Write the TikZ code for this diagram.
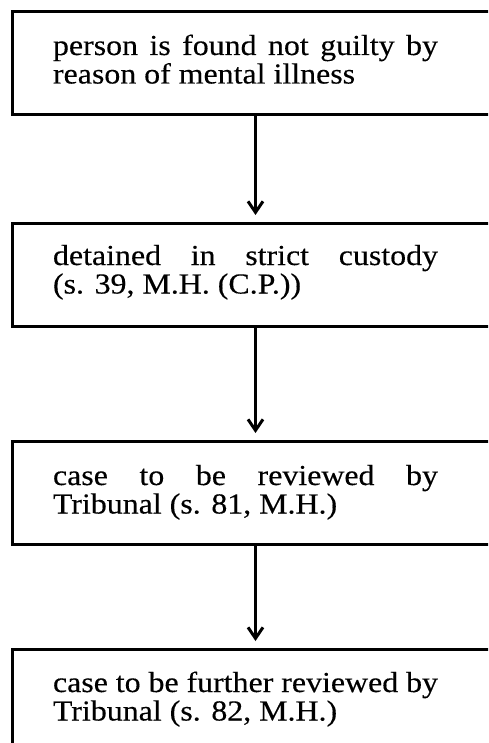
\documentclass[tikz,border=0pt]{standalone}
\usepackage{fontspec}
\setmainfont{Liberation Serif}[FakeStretch=1.1,FakeBold=0.3]
\usetikzlibrary{arrows.meta}

\tikzset{every picture/.style={line width=2pt}}

\begin{document}
\begin{tikzpicture}[x=1pt,y=1pt,yscale=-1,xscale=1,
  stage/.style={draw,line width=3pt,minimum width=486pt,minimum height=103pt,inner sep=0pt,anchor=north west},
  stagetext/.style={anchor=base west,inner sep=0pt,text width=385pt,align=justify,font=\fontsize{29}{28.5}\selectfont},
  flow/.style={line width=2.2pt,-{Straight Barb[length=11pt,width=15pt,line width=3pt]},shorten >=7pt}]
%set diagram to the page size, boxes run off right and bottom edge
\useasboundingbox (0,0) rectangle (488,743);
\clip (0,0) rectangle (488,743);

%Boxes
\node [stage] (found) at (11,10) {};
\node [stage] (custody) at (11,222) {};
\node [stage] (review) at (11,440) {};
\node [stage] (further) at (11,648) {};

% Text Nodes
\node [stagetext] (foundtext) at (52,55) {person is found not guilty by\linebreak reason of mental illness};
\node [stagetext] (custodytext) at (52,265) {detained in strict custody\linebreak (s. 39, M.H. (C.P.))};
\node [stagetext] (reviewtext) at (52,485) {case to be reviewed by\linebreak Tribunal (s. 81, M.H.)};
\node [stagetext] (furthertext) at (52,692) {case to be further reviewed by\linebreak Tribunal (s. 82, M.H.)};

%Arrows
\draw [flow] (found.south) -- (custody.north);
\draw [flow] (custody.south) -- (review.north);
\draw [flow] (review.south) -- (further.north);

\end{tikzpicture}
\end{document}
